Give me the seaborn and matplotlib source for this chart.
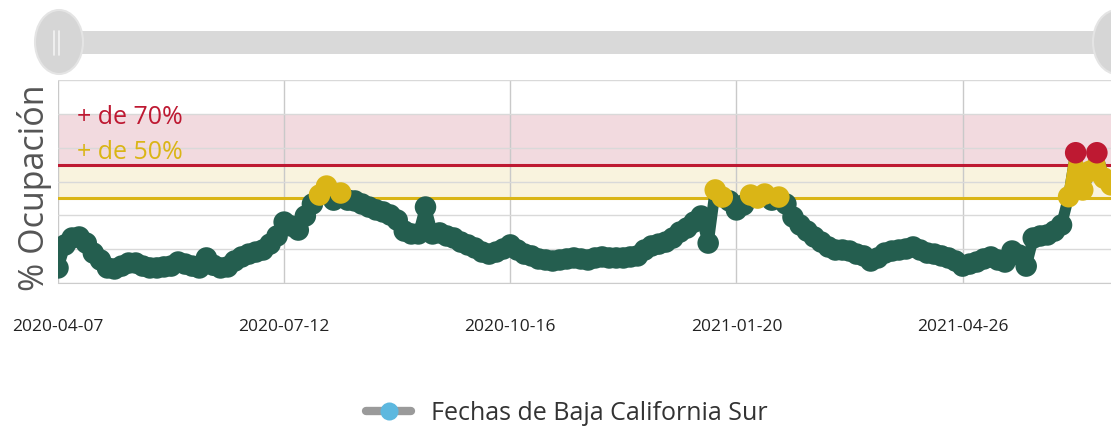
import pandas as pd
import numpy as np
import matplotlib.pyplot as plt
import seaborn as sns
from matplotlib.lines import Line2D
from matplotlib.patches import Ellipse, FancyBboxPatch

# hospital occupancy (%) for Baja California Sur, one reading every 3 days
inicio = "2020-04-07"
ocupacion = [
    8.9, 22.5, 26.6, 27.2, 23.6, 17.7, 13.6, 8.9, 8.3, 10.0,
    11.8, 11.8, 10.0, 8.9, 8.9, 9.5, 10.0, 12.4, 11.2, 10.0,
    8.9, 14.8, 10.5, 8.9, 9.5, 13.0, 15.4, 17.1, 18.3, 19.5,
    23.0, 27.8, 36.0, 33.7, 31.3, 39.6, 46.7, 52.0, 57.3, 49.0,
    53.2, 49.0, 48.5, 46.7, 44.9, 43.2, 42.0, 40.2, 37.2, 30.7,
    29.0, 29.0, 44.9, 29.0, 29.6, 27.8, 26.6, 24.2, 22.5, 20.7,
    18.3, 17.1, 18.3, 20.1, 22.5, 19.5, 17.1, 16.0, 14.2, 13.6,
    13.0, 13.6, 14.2, 14.8, 14.2, 13.6, 14.8, 15.4, 14.8, 14.8,
    14.8, 15.4, 16.0, 19.5, 21.9, 23.0, 24.2, 26.6, 30.1, 32.5,
    36.0, 39.6, 23.6, 55.0, 50.8, 48.5, 43.2, 46.1, 52.0, 50.2,
    52.6, 49.0, 50.8, 46.7, 39.0, 34.3, 30.7, 27.2, 24.2, 21.3,
    19.5, 19.5, 18.9, 17.1, 16.0, 13.0, 14.8, 17.7, 18.9, 19.5,
    20.1, 21.3, 19.5, 17.7, 17.1, 16.0, 14.8, 13.0, 10.0, 11.2,
    12.4, 14.2, 15.4, 13.6, 12.4, 18.9, 16.5, 10.0, 26.6, 27.8,
    28.4, 30.7, 34.3, 51.0, 77.0, 55.0, 66.0, 77.0, 62.0, 58.0,
]
tick_fechas = ["2020-04-07", "2020-07-12", "2020-10-16", "2021-01-20", "2021-04-26"]
umbral_amarillo = 50
umbral_rojo = 70
limite_banda = 100
serie_nombre = "Fechas de Baja California Sur"

VERDE = "#245e4f"
AMARILLO = "#dab516"
ROJO = "#be1932"

df = pd.DataFrame({
    "fecha": pd.date_range(inicio, periods=len(ocupacion), freq="3D"),
    "ocupacion": ocupacion,
})
df["zona"] = np.where(df["ocupacion"] >= umbral_rojo, "rojo",
                      np.where(df["ocupacion"] >= umbral_amarillo, "amarillo", "verde"))

sns.set_style("white")
plt.rcParams["font.family"] = ["Open Sans", "DejaVu Sans"]

W, H = 1111, 430
fig = plt.figure(figsize=(W / 100, H / 100), dpi=100)
ax = fig.add_axes([58 / W, (H - 283) / H, 1 - 58 / W, 203 / H])

# threshold bands and lines
ax.axhspan(umbral_rojo, limite_banda, color="#f2dadf", zorder=0.2, lw=0)
ax.axhspan(umbral_amarillo, umbral_rojo, color="#f9f3de", zorder=0.2, lw=0)
ax.axhline(umbral_rojo, color=ROJO, lw=2.2, zorder=2)
ax.axhline(umbral_amarillo, color=AMARILLO, lw=2.2, zorder=2)

# series line, coloured by zone like the original
sns.lineplot(data=df, x="fecha", y="ocupacion", color=VERDE, lw=8, ax=ax, zorder=3)
y = df["ocupacion"].to_numpy()
ax.plot(df["fecha"], np.where(y >= umbral_amarillo, y, np.nan), color=AMARILLO, lw=8, zorder=3.1)
ax.plot(df["fecha"], np.where(y >= umbral_rojo, y, np.nan), color=ROJO, lw=8, zorder=3.2)

orden = df.assign(r=df["zona"].map({"verde": 0, "amarillo": 1, "rojo": 2})).sort_values("r")
sns.scatterplot(data=orden, x="fecha", y="ocupacion", hue="zona",
                palette={"verde": VERDE, "amarillo": AMARILLO, "rojo": ROJO},
                s=240, linewidth=0, legend=False, ax=ax, zorder=4)

ax.text(pd.Timestamp("2020-04-15"), 98, "+ de 70%", color=ROJO, fontsize=18, va="center", zorder=5)
ax.text(pd.Timestamp("2020-04-15"), 77, "+ de 50%", color=AMARILLO, fontsize=18, va="center", zorder=5)

# axes styling
ax.set_xlim(pd.Timestamp(inicio), pd.Timestamp("2021-06-28"))
ax.set_ylim(0, 120)
ax.set_yticks(range(0, 121, 20))
ax.set_yticklabels([])
ax.set_xticks(pd.to_datetime(tick_fechas))
ax.set_xticklabels(tick_fechas, fontsize=12.5, color="#222222")
ax.tick_params(axis="x", length=0, pad=26)
ax.tick_params(axis="y", length=0)
ax.set_axisbelow(True)
ax.grid(axis="y", color="#d9d9d9", lw=1)
ax.grid(axis="x", color="#c9c9c9", lw=1)
for lado in ["top", "right", "left"]:
    ax.spines[lado].set_visible(False)
ax.spines["bottom"].set_color("#cccccc")
ax.set_xlabel("")
ax.set_ylabel("% Ocupación", fontsize=24.5, color="#555555")
ax.yaxis.set_label_coords(-6 / 1053, 0.47)

# navigator / scrollbar at the top
nav = fig.add_axes([0, (H - 80) / H, 1, 80 / H])
nav.set_xlim(0, W)
nav.set_ylim(80, 0)
nav.axis("off")
nav.add_patch(FancyBboxPatch((45, 31), 1060, 23, boxstyle="round,pad=0,rounding_size=11",
                             fc="#d9d9d9", ec="none"))
for cx in [59, 1117]:
    nav.add_patch(Ellipse((cx, 42), 48, 64, fc="#d6d6d6", ec="#e4e4e4", lw=1.5))
nav.plot([54, 54], [31, 55], color="#f4f4f4", lw=1.2)
nav.plot([59, 59], [31, 55], color="#f4f4f4", lw=1.2)

# legend
handle = Line2D([], [], color="#9a9a9a", lw=6, marker="o", markersize=13,
                markerfacecolor="#5db8df", markeredgecolor="none")
fig.legend([handle], [serie_nombre], loc="center", bbox_to_anchor=(567 / W, 1 - 413 / H),
           frameon=False, fontsize=18, handlelength=1.8, labelcolor="#333333")

fig.savefig("out.png", dpi=100)
